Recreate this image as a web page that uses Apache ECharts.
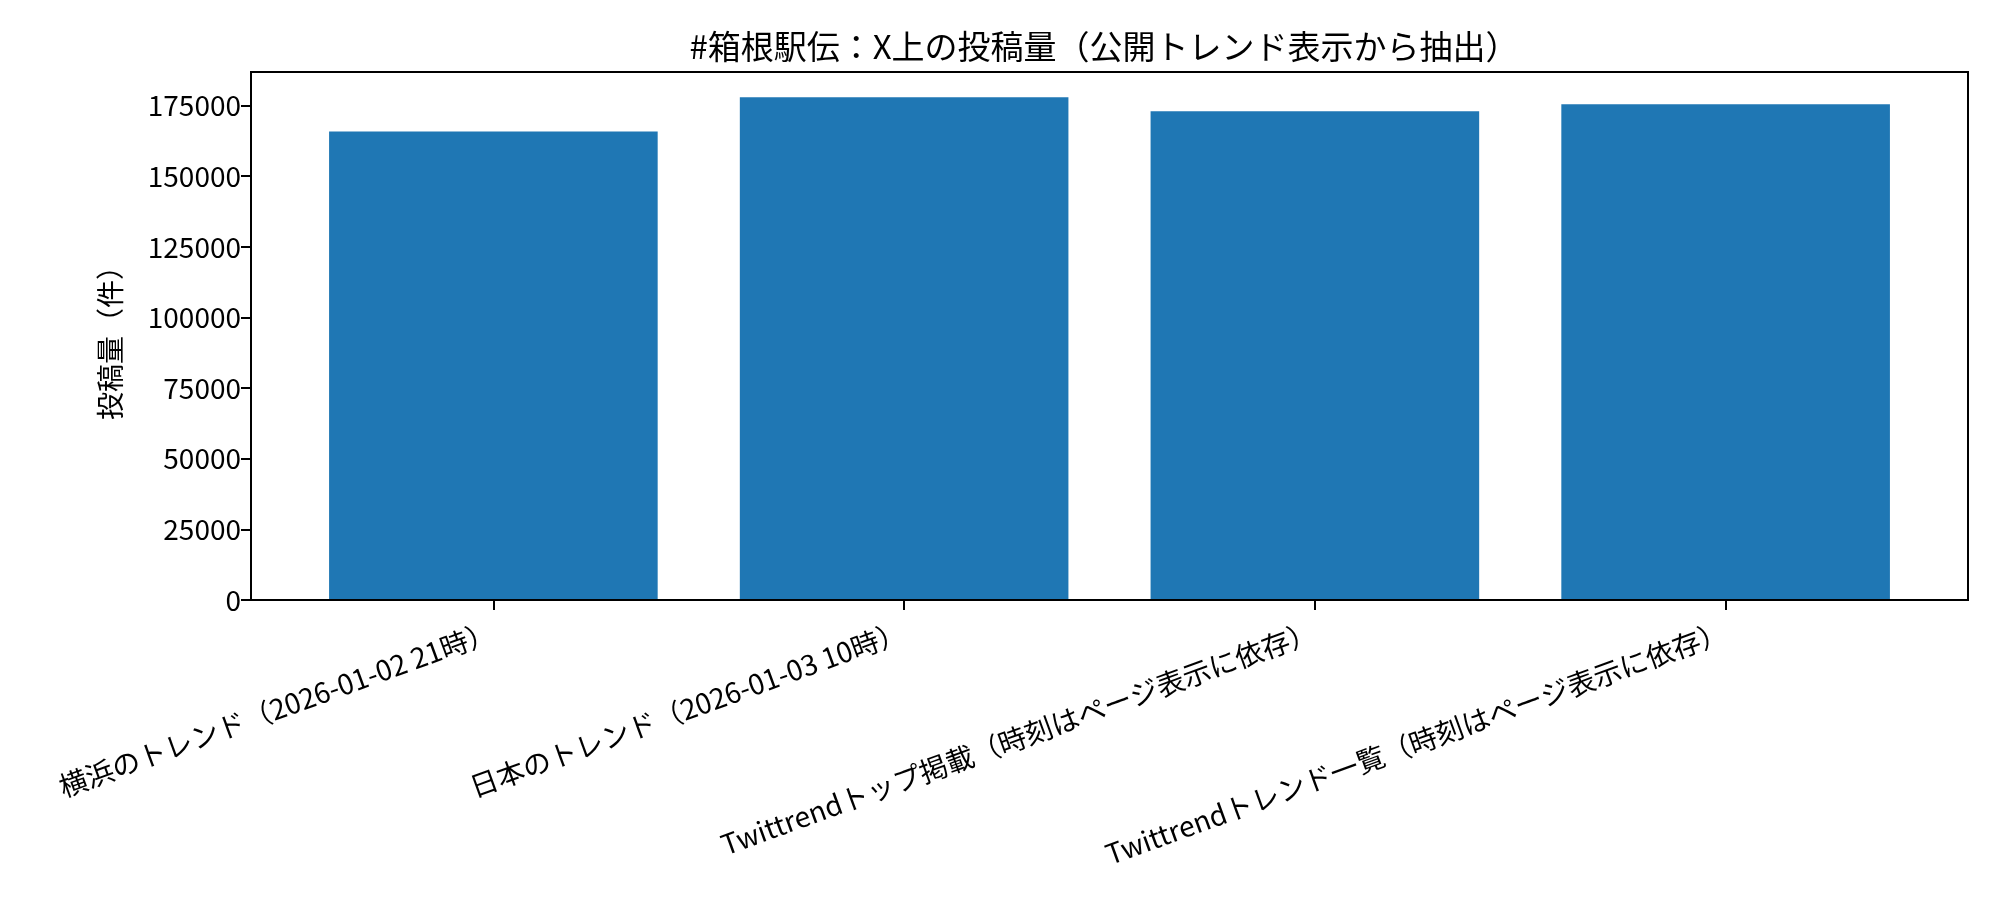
<!DOCTYPE html>
<html>
<head>
<meta charset="utf-8">
<script src="https://cdn.jsdelivr.net/npm/echarts@6/dist/echarts.min.js"></script>
<style>
html,body{margin:0;padding:0;background:#fff;}
#chart{width:2000px;height:900px;}
</style>
</head>
<body>
<div id="chart"></div>
<script>
const titleText = '#箱根駅伝：X上の投稿量（公開トレンド表示から抽出）';
const yAxisName = '投稿量（件）';
const categories = [
  '横浜のトレンド（2026-01-02 21時）',
  '日本のトレンド（2026-01-03 10時）',
  'Twittrendトップ掲載（時刻はページ表示に依存）',
  'Twittrendトレンド一覧（時刻はページ表示に依存）'
];
const postCounts = [165800, 178000, 173000, 175500];
const yTicks = [0, 25000, 50000, 75000, 100000, 125000, 150000, 175000];

const FONT = 'Noto Sans CJK JP';
const yMax = Math.max(...postCounts) * 1.05;

const chart = echarts.init(document.getElementById('chart'), null, {renderer: 'canvas'});
chart.setOption({
  animation: false,
  backgroundColor: '#ffffff',
  textStyle: {fontFamily: FONT},
  title: {
    text: titleText,
    left: 1099,
    textAlign: 'center',
    top: 25,
    textStyle: {fontFamily: FONT, fontSize: 33, fontWeight: 'normal', color: '#000'}
  },
  grid: [
    {left: 251, right: 32, top: 72, bottom: 300, show: true, borderColor: '#000', borderWidth: 2, backgroundColor: 'transparent', z: 5},
    {left: 288, right: 69, top: 72, bottom: 300, show: false}
  ],
  xAxis: [
    {gridIndex: 0, type: 'value', min: 0, max: 1, show: false},
    {
      gridIndex: 1, type: 'category', data: categories,
      boundaryGap: true,
      axisLine: {show: false},
      axisTick: {show: true, alignWithLabel: true, length: 10, lineStyle: {color: '#000', width: 2}},
      axisLabel: {rotate: 20, margin: 30, fontSize: 28, color: '#000', fontFamily: FONT, interval: 0}
    }
  ],
  yAxis: [
    {
      gridIndex: 0, type: 'value', min: 0, max: yMax,
      name: yAxisName, nameLocation: 'middle', nameGap: 127, nameRotate: 90,
      nameTextStyle: {fontSize: 28, color: '#000', fontFamily: FONT},
      axisLine: {show: false},
      splitLine: {show: false},
      axisTick: {show: true, length: 10, lineStyle: {color: '#000', width: 2}, customValues: yTicks},
      axisLabel: {fontSize: 28, color: '#000', margin: 10, fontFamily: FONT, customValues: yTicks,
        formatter: function (v) { return String(Math.round(v)); }}
    },
    {gridIndex: 1, type: 'value', min: 0, max: yMax, show: false, splitLine: {show: false}}
  ],
  series: [{
    type: 'bar',
    xAxisIndex: 1, yAxisIndex: 1,
    data: postCounts,
    barCategoryGap: '20%',
    itemStyle: {color: '#1f77b4'}
  }]
});
</script>
</body>
</html>
